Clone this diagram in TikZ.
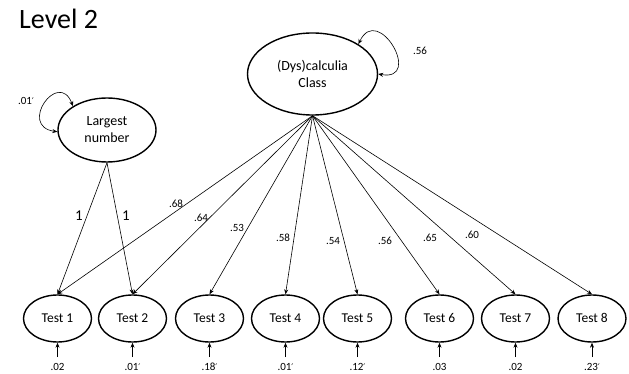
\documentclass[tikz,border=0pt]{standalone}
\usepackage{fontspec}
\setmainfont{Carlito}
\newfontfamily\primefont{DejaVu Sans}
\newcommand\pmark{{\primefont\fontsize{9}{11}\selectfont ′}}
\usetikzlibrary{arrows.meta,shapes.geometric}
\begin{document}
\begin{tikzpicture}[x=1pt,y=1pt,
  latent/.style={draw, ellipse, line width=1.4pt, inner sep=0pt, align=center,
    font=\fontsize{14}{17}\selectfont},
  testbox/.style={draw, ellipse, line width=1.4pt, inner sep=0pt,
    minimum width=68pt, minimum height=47pt, text height=9pt, text depth=1pt,
    font=\fontsize{13.5}{16}\selectfont},
  path/.style={line width=0.6pt, -{Stealth[length=5pt,width=4pt]}},
  twoway/.style={line width=0.6pt, {Stealth[length=5pt,width=4pt]}-{Stealth[length=5pt,width=4pt]}},
  coef/.style={font=\fontsize{11}{13}\selectfont, inner sep=0pt},
  fixed/.style={font=\fontsize{15}{18}\selectfont, inner sep=0pt}]
\useasboundingbox (0,0) rectangle (629,-374);

% title
\node[anchor=base west, inner sep=0pt, font=\fontsize{28}{32}\selectfont] (title) at (19,-29) {Level 2};

% latent variables
\node[latent, minimum width=130pt, minimum height=82pt] (dys) at (312.5,-74) {(Dys)calculia\\Class};
\node[latent, minimum width=98pt, minimum height=64pt] (ln) at (107,-130) {Largest\\number};

% variances of the latent variables
\draw[twoway] (dys.33) .. controls +(65:46) and +(-10:46) .. (dys.0);
\node[coef] (vdys) at (420,-51) {.56};
\draw[twoway] (ln.145) .. controls +(111:40) and +(172:40) .. (ln.182);
\node[coef] (vln) at (26,-101) {.01\pmark};

% observed tests with residual arrows
\foreach \i/\x/\r in {1/57.5/.02, 2/132.5/.01\pmark, 3/209.5/.18\pmark, 4/285.5/.01\pmark,
                      5/357.5/.12\pmark, 6/439.5/.03, 7/515.5/.02, 8/592/.23\pmark}{
  \node[testbox] (t\i) at (\x,-318.5) {Test \i};
  \coordinate (e\i) at (\x,-357);
  \draw[path] (e\i) -- (t\i.south);
  \node[coef, anchor=base] (r\i) at (\x,-370) {\r};
}

% fixed loadings of the largest-number factor
\draw[path] (ln.south) -- (t1.north);
\draw[path] (ln.south) -- (t2.north);
\node[fixed] (f1) at (79,-216) {1};
\node[fixed] (f2) at (126,-216) {1};

% loadings of the class factor
\foreach \i in {1,...,8}{
  \draw[path] (dys.south) -- (t\i.north);
}
\node[coef] (l1) at (176,-204) {.68};
\node[coef] (l2) at (201,-218) {.64};
\node[coef] (l3) at (237,-228) {.53};
\node[coef] (l4) at (283,-238) {.58};
\node[coef] (l5) at (333,-241) {.54};
\node[coef] (l6) at (385,-241) {.56};
\node[coef] (l7) at (430,-238) {.65};
\node[coef] (l8) at (472,-235) {.60};
\end{tikzpicture}
\end{document}
